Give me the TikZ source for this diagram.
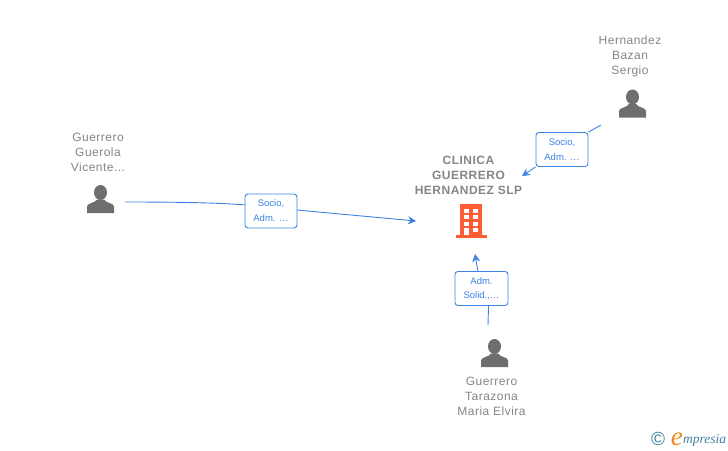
\documentclass[tikz,border=0pt]{standalone}
\usepackage{fontspec}
\setmainfont{Liberation Sans}
\newfontfamily\logofont{Liberation Serif}
\usetikzlibrary{arrows.meta,positioning}
\definecolor{linkblue}{HTML}{3C82E6}
\definecolor{textgrey}{HTML}{858585}
\definecolor{icongrey}{HTML}{6E6E6E}
\definecolor{buildorange}{HTML}{FF5C33}
\definecolor{logoteal}{HTML}{3F7F9F}
\definecolor{logoorange}{HTML}{F08A1D}

\begin{document}
\begin{tikzpicture}[
    x = 1pt,
    y = -1pt,
    > = {Stealth[length=8pt,width=8pt]},
    namelabel/.style={align=center, text=textgrey, inner sep=0pt,
        font=\fontsize{12}{15}\selectfont\addfontfeatures{LetterSpace=4}},
    firmlabel/.style={align=center, text=textgrey, inner sep=0pt,
        font=\fontsize{12}{15}\selectfont\bfseries\addfontfeatures{LetterSpace=4}},
    rolebox/.style={draw=linkblue, fill=white, rounded corners=3pt, line width=0.9pt,
        text=linkblue, align=center, inner sep=0pt, minimum width=52pt, minimum height=34pt,
        font=\fontsize{9.5}{15}\selectfont},
    link/.style={draw=linkblue, line width=0.9pt},
    person/.pic={
        \fill[icongrey] (0,-7) ellipse (6.5 and 7.5);
        \fill[icongrey] (-13.5,13.5) -- (-13.5,7) .. controls (-13.5,3.5) and (-5,3.5) .. (-3.5,0)
            -- (3.5,0) .. controls (5,3.5) and (13.5,3.5) .. (13.5,7) -- (13.5,13.5) -- cycle;
    }
]
\useasboundingbox (0,0) rectangle (728,450);

% People
\pic at (100.5,199.5) {person};
\pic at (632.5,104) {person};
\pic at (494.5,353.5) {person};
\node[namelabel] (vicente) at (98,152) {Guerrero\\Guerola\\Vicente...};
\node[namelabel] (sergio) at (630,56) {Hernandez\\Bazan\\Sergio};
\node[namelabel] (elvira) at (491.5,396) {Guerrero\\Tarazona\\Maria Elvira};

% Company
\node[firmlabel] (clinica) at (468.5,175.5) {CLINICA\\GUERRERO\\HERNANDEZ SLP};
\fill[buildorange] (460,204) rectangle (482,235);
\fill[buildorange] (455.5,235) rectangle (487,238);
\foreach \wy in {208.5,215,221.5} {
    \fill[white] (463.5,\wy) rectangle (468.5,\wy+4);
    \fill[white] (473,\wy) rectangle (478,\wy+4);
}
\fill[white] (473,228) rectangle (478,232);
\fill[white] (463.5,228) rectangle (468.5,235);

% Free ends of the links
\coordinate (vicenteout) at (125,202);
\coordinate (sergioout) at (601,125);
\coordinate (elviraout) at (488,325);
\coordinate (vicentein) at (416,221);
\coordinate (sergioin) at (522,176);
\coordinate (elvirain) at (475,254);

% Role boxes
\node[rolebox] (vicenterole) at (271,211) {Socio,\\Adm. \dots};
\node[rolebox] (sergiorole) at (562,149.5) {Socio,\\Adm. \dots};
\node[rolebox, minimum width=53pt, font=\fontsize{9.5}{14}\selectfont] (elvirarole) at (481.5,288.5) {\raisebox{-1.5pt}{Adm.}\\\raisebox{-1.5pt}{Solid.,\dots}};

% Links
\draw[link] (vicenteout) .. controls (170,202) and (215,202.5) .. (vicenterole.167);
\draw[link, ->] (vicenterole.2) -- (vicentein);
\draw[link] (sergioout) -- (sergiorole.north east);
\draw[link, ->] (sergiorole.south west) -- (sergioin);
\draw[link] (elviraout) -- (elvirarole.-68);
\draw[link, ->] (elvirarole.102) -- (elvirain);

% Logo
\node[inner sep=0pt, text=logoteal, font=\fontsize{19}{19}\selectfont] (copyright) at (658,439) {\textcopyright};
\node[inner sep=0pt, anchor=base west, text=logoteal, font=\logofont\fontsize{13.5}{13.5}\selectfont\itshape] (logoname) at (683,443) {mpresia};
\node[inner sep=0pt, anchor=base east, text=logoorange, font=\logofont\fontsize{27}{27}\selectfont\itshape] (logoe) at (683,445) {e};
\end{tikzpicture}
\end{document}
